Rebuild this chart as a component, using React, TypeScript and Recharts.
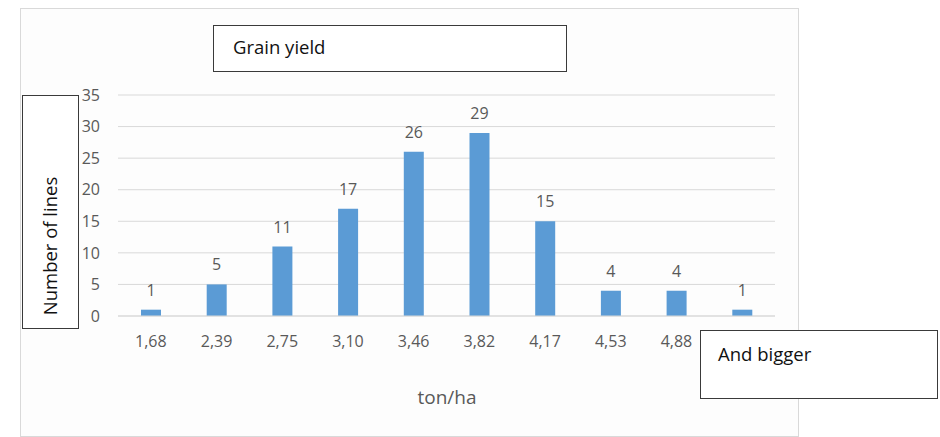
import { BarChart, Bar, XAxis, YAxis, CartesianGrid, LabelList } from "recharts"

// yield classes (ton/ha) and how many lines fall in each
const yieldClasses = ["1,68", "2,39", "2,75", "3,10", "3,46", "3,82", "4,17", "4,53", "4,88", "5,24"]
const lineCounts = [1, 5, 11, 17, 26, 29, 15, 4, 4, 1]
const countTicks = [0, 5, 10, 15, 20, 25, 30, 35]

const data = yieldClasses.map((c, i) => ({ yieldClass: c, lines: lineCounts[i] }))

const FONT = "'Open Sans', 'Noto Sans', sans-serif"
const GREY_TEXT = "#595959"
const GRID = "#d9d9d9"

const box: React.CSSProperties = {
  position: "absolute",
  background: "#ffffff",
  border: "1.5px solid #3a3a3a",
  boxSizing: "border-box",
  fontFamily: FONT,
  color: "#111",
  fontSize: 18.5,
}

// the open-ended last class gets its caption from the "And bigger" box instead
const lastClass = yieldClasses[yieldClasses.length - 1]
const formatClass = (c: string) => (c === lastClass ? "" : c)

export default function App() {
  return (
    <div style={{ position: "absolute", left: 0, top: 0, width: 940, height: 437, background: "#fff" }}>
      {/* chart area frame */}
      <div
        style={{
          position: "absolute",
          left: 20,
          top: 8,
          width: 779,
          height: 429,
          border: `1px solid ${GRID}`,
          background: "#fdfdfd",
          boxSizing: "border-box",
        }}
      />
      <div style={{ position: "absolute", left: 0, top: 0 }}>
        <BarChart
          width={940}
          height={437}
          data={data}
          margin={{ top: 95, right: 165, bottom: 91, left: 0 }}
          barCategoryGap={0}
        >
          <CartesianGrid vertical={false} stroke={GRID} />
          <XAxis
            dataKey="yieldClass"
            height={30}
            axisLine={{ stroke: GRID }}
            tickLine={false}
            tickMargin={14}
            interval={0}
            tickFormatter={formatClass}
            tick={{ fill: GREY_TEXT, fontSize: 16, fontFamily: FONT }}
          />
          <YAxis
            width={118}
            domain={[0, 35]}
            ticks={countTicks}
            axisLine={false}
            tickLine={false}
            tickMargin={12}
            tick={{ fill: GREY_TEXT, fontSize: 16, fontFamily: FONT }}
          />
          <Bar dataKey="lines" fill="#5b9bd5" barSize={20} isAnimationActive={false}>
            <LabelList dataKey="lines" position="top" offset={14} fill={GREY_TEXT} fontSize={16} fontFamily={FONT} />
          </Bar>
        </BarChart>
      </div>

      <div
        style={{
          position: "absolute",
          left: 397,
          top: 384,
          width: 100,
          textAlign: "center",
          whiteSpace: "nowrap",
          fontFamily: FONT,
          fontSize: 19,
          color: GREY_TEXT,
        }}
      >
        ton/ha
      </div>

      {/* title box */}
      <div style={{ ...box, left: 213, top: 25, width: 354, height: 47, padding: "8px 0 0 19px" }}>Grain yield</div>

      {/* y axis caption box */}
      <div style={{ ...box, left: 22, top: 95, width: 57, height: 234 }}>
        <div
          style={{
            position: "absolute",
            left: 26,
            top: 150,
            transform: "translate(-50%, -50%) rotate(-90deg)",
            whiteSpace: "nowrap",
          }}
        >
          Number of lines
        </div>
      </div>

      {/* open-ended last class */}
      <div style={{ ...box, left: 700, top: 330, width: 238, height: 69, padding: "10px 0 0 17px" }}>And bigger</div>
    </div>
  )
}
